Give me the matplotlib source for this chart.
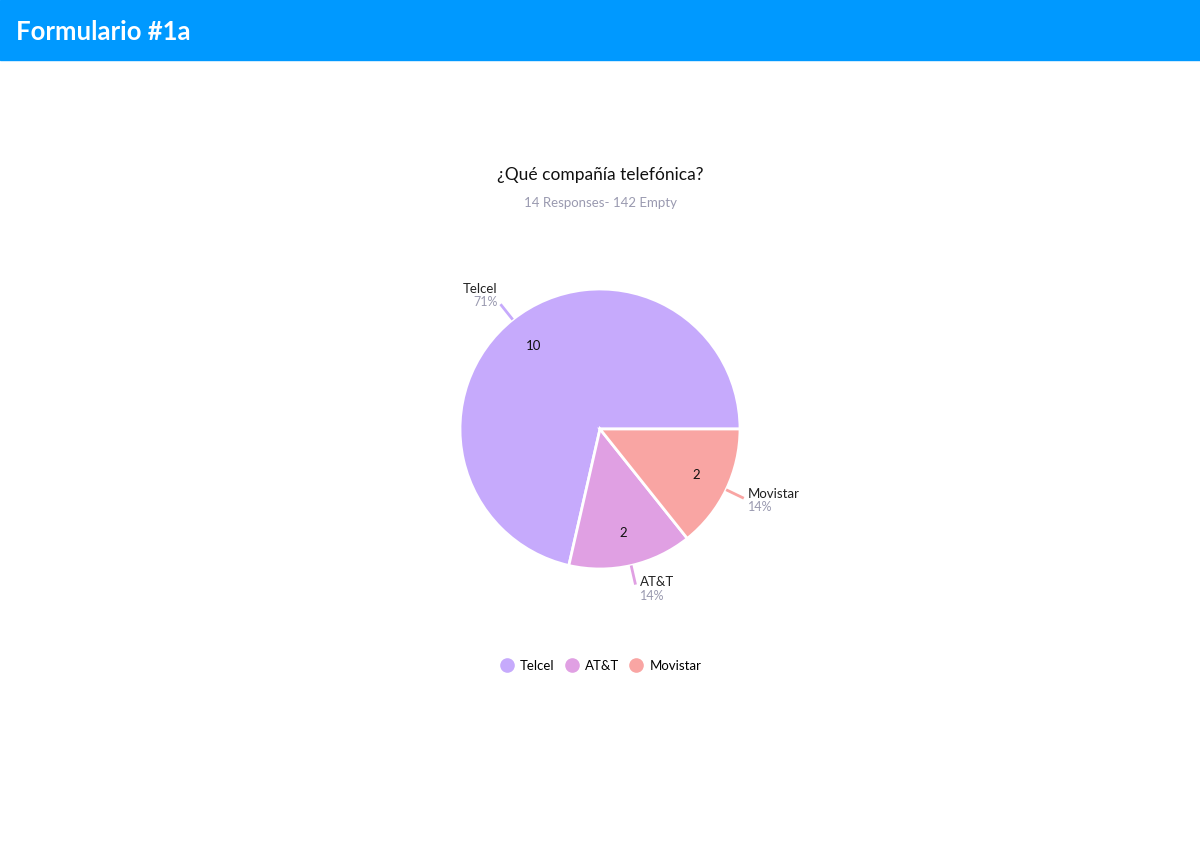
import numpy as np
import matplotlib.pyplot as plt
from matplotlib.patches import Rectangle
from matplotlib.lines import Line2D

labels = ["Telcel", "AT&T", "Movistar"]
counts = [10, 2, 2]
colors = ["#c6aafc", "#e0a0e3", "#f9a5a3"]
title = "¿Qué compañía telefónica?"
subtitle = "14 Responses- 142 Empty"
header = "Formulario #1a"

plt.rcParams['font.family'] = ['Lato', 'DejaVu Sans']

W, H = 1200, 850
fig = plt.figure(figsize=(W / 100, H / 100), dpi=100)
fig.patch.set_facecolor("white")

# header bar
fig.patches.append(Rectangle((0, 1 - 60 / H), 1, 60 / H, transform=fig.transFigure,
                             color="#0099ff", zorder=0))
fig.text(16 / W, 1 - 32 / H, header, color="white", fontsize=18.5, fontweight="bold",
         va="center", ha="left")

fig.text(0.5, 1 - 175 / H, title, fontsize=12.5, ha="center", va="center", color="#111111")
fig.text(0.5, 1 - 203 / H, subtitle, fontsize=9.5, ha="center", va="center", color="#9a9ab0")

# pie axes: center (600, 429), radius 140 px
cx, cy, r = 600, 429, 140
ax = fig.add_axes([(cx - r) / W, 1 - (cy + r) / H, 2 * r / W, 2 * r / H])
total = sum(counts)
wedges, _, autotexts = ax.pie(counts, colors=colors, startangle=0, counterclock=True,
                              autopct=lambda p: "%d" % round(p * total / 100),
                              pctdistance=0.76,
                              wedgeprops=dict(edgecolor="white", linewidth=2))
for t in autotexts:
    t.set_fontsize(9.5)
    t.set_color("#111111")
ax.set_xlim(-1, 1)
ax.set_ylim(-1, 1)
ax.set_aspect("equal")
ax.axis("off")

# outside labels with leader lines
for w, lab, cnt, col in zip(wedges, labels, counts, colors):
    ang = np.deg2rad((w.theta1 + w.theta2) / 2)
    c, s = np.cos(ang), np.sin(ang)
    x0, y0 = 1.0 * c, 1.0 * s
    x1, y1 = 1.14 * c, 1.14 * s
    ax.plot([x0, x1], [y0, y1], color=col, lw=2, solid_capstyle="butt", clip_on=False)
    pct = "%d%%" % round(100 * cnt / total)
    if c < 0:
        ha, dx = "right", -0.02
        ax.text(x1 + dx, y1 + 0.11, lab, ha=ha, va="center", fontsize=9.5,
                color="#222222", clip_on=False)
        ax.text(x1 + dx, y1 + 0.015, pct, ha=ha, va="center", fontsize=9,
                color="#9a9ab0", clip_on=False)
    else:
        ha, dx = "left", 0.03
        ax.text(x1 + dx, y1 + 0.03 - 0.015 * (s < -0.8), lab, ha=ha, va="center",
                fontsize=9.5, color="#222222", clip_on=False)
        ax.text(x1 + dx, y1 - 0.065 - 0.015 * (s < -0.8), pct, ha=ha, va="center",
                fontsize=9, color="#9a9ab0", clip_on=False)

handles = [Line2D([], [], marker="o", linestyle="none", markersize=9.5,
                  markerfacecolor=c, markeredgecolor=c) for c in colors]
fig.legend(handles, labels, loc="center", bbox_to_anchor=(0.5, 1 - 666 / H), ncol=3,
           frameon=False, fontsize=9.5, handletextpad=0.4, columnspacing=0.7,
           handlelength=1.2)

fig.savefig("out.png", dpi=100, facecolor="white")
